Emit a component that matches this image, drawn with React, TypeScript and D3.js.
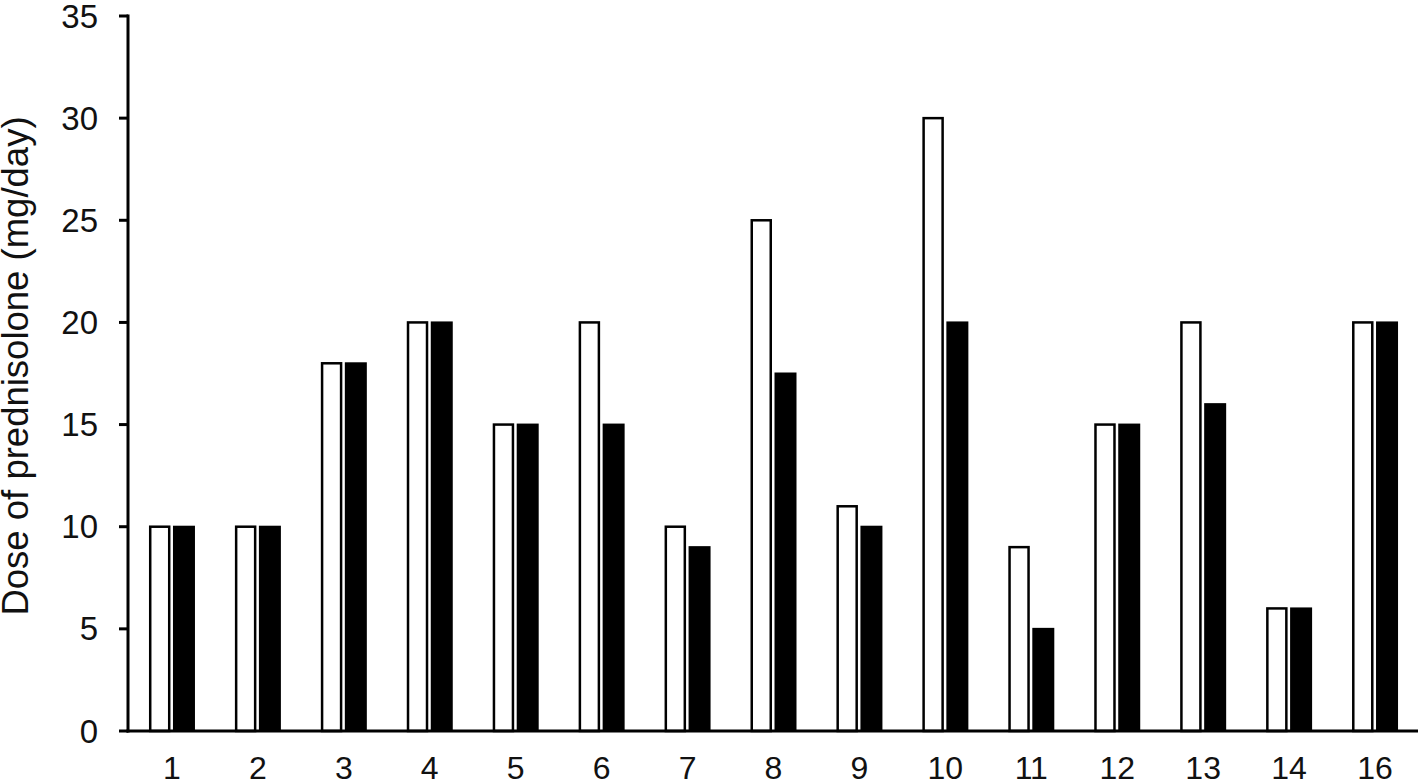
import React from "react";
import * as d3 from "d3";

const categories = ["1", "2", "3", "4", "5", "6", "7", "8", "9", "10", "11", "12", "13", "14", "16"];
const beforeDose = [10, 10, 18, 20, 15, 20, 10, 25, 11, 30, 9, 15, 20, 6, 20];
const afterDose = [10, 10, 18, 20, 15, 15, 9, 17.5, 10, 20, 5, 15, 16, 6, 20];
const yTicks = [0, 5, 10, 15, 20, 25, 30, 35];
const yLabel = "Dose of prednisolone (mg/day)";

const W = 1418;
const H = 783;
const FONT = "'Liberation Sans', Arial, Helvetica, sans-serif";

export default function App() {
  const x = d3.scaleBand<string>().domain(categories).range([129, 1418]).paddingInner(0).paddingOuter(0);
  const y = d3.scaleLinear().domain([0, 35]).range([731, 16]);
  const bw = x.bandwidth();
  const axisX = 128;

  return (
    <svg
      width={W}
      height={H}
      style={{ position: "absolute", left: 0, top: 0, background: "#fff" }}
      fontFamily={FONT}
    >
      {/* bars */}
      {categories.map((c, i) => {
        const cx = (x(c) as number) + bw / 2;
        const yw = y(beforeDose[i]);
        const yb = y(afterDose[i]);
        return (
          <g key={c}>
            <rect
              x={cx - 21.75}
              y={yw}
              width={19}
              height={y(0) - yw}
              fill="#fff"
              stroke="#000"
              strokeWidth={2.5}
            />
            <rect x={cx + 1} y={yb - 1} width={22} height={y(0) - yb + 1} fill="#000" />
            <text x={cx} y={779} textAnchor="middle" fontSize={32} fill="#111">
              {c}
            </text>
          </g>
        );
      })}

      {/* y axis */}
      <line x1={axisX} x2={axisX} y1={y(35) - 1.5} y2={y(0) + 1.5} stroke="#000" strokeWidth={3} />
      {yTicks.map((t) => (
        <g key={t}>
          <line x1={119} x2={axisX} y1={y(t)} y2={y(t)} stroke="#000" strokeWidth={3} />
          <text
            x={98}
            y={y(t)}
            textAnchor="end"
            dominantBaseline="central"
            fontSize={33}
            fill="#111"
          >
            {t}
          </text>
        </g>
      ))}

      {/* x axis */}
      <line x1={axisX - 1.5} x2={W} y1={y(0)} y2={y(0)} stroke="#000" strokeWidth={3} />

      {/* y label */}
      <text
        transform={`translate(28, 366) rotate(-90)`}
        textAnchor="middle"
        fontSize={36.5}
        fill="#111"
      >
        {yLabel}
      </text>
    </svg>
  );
}
